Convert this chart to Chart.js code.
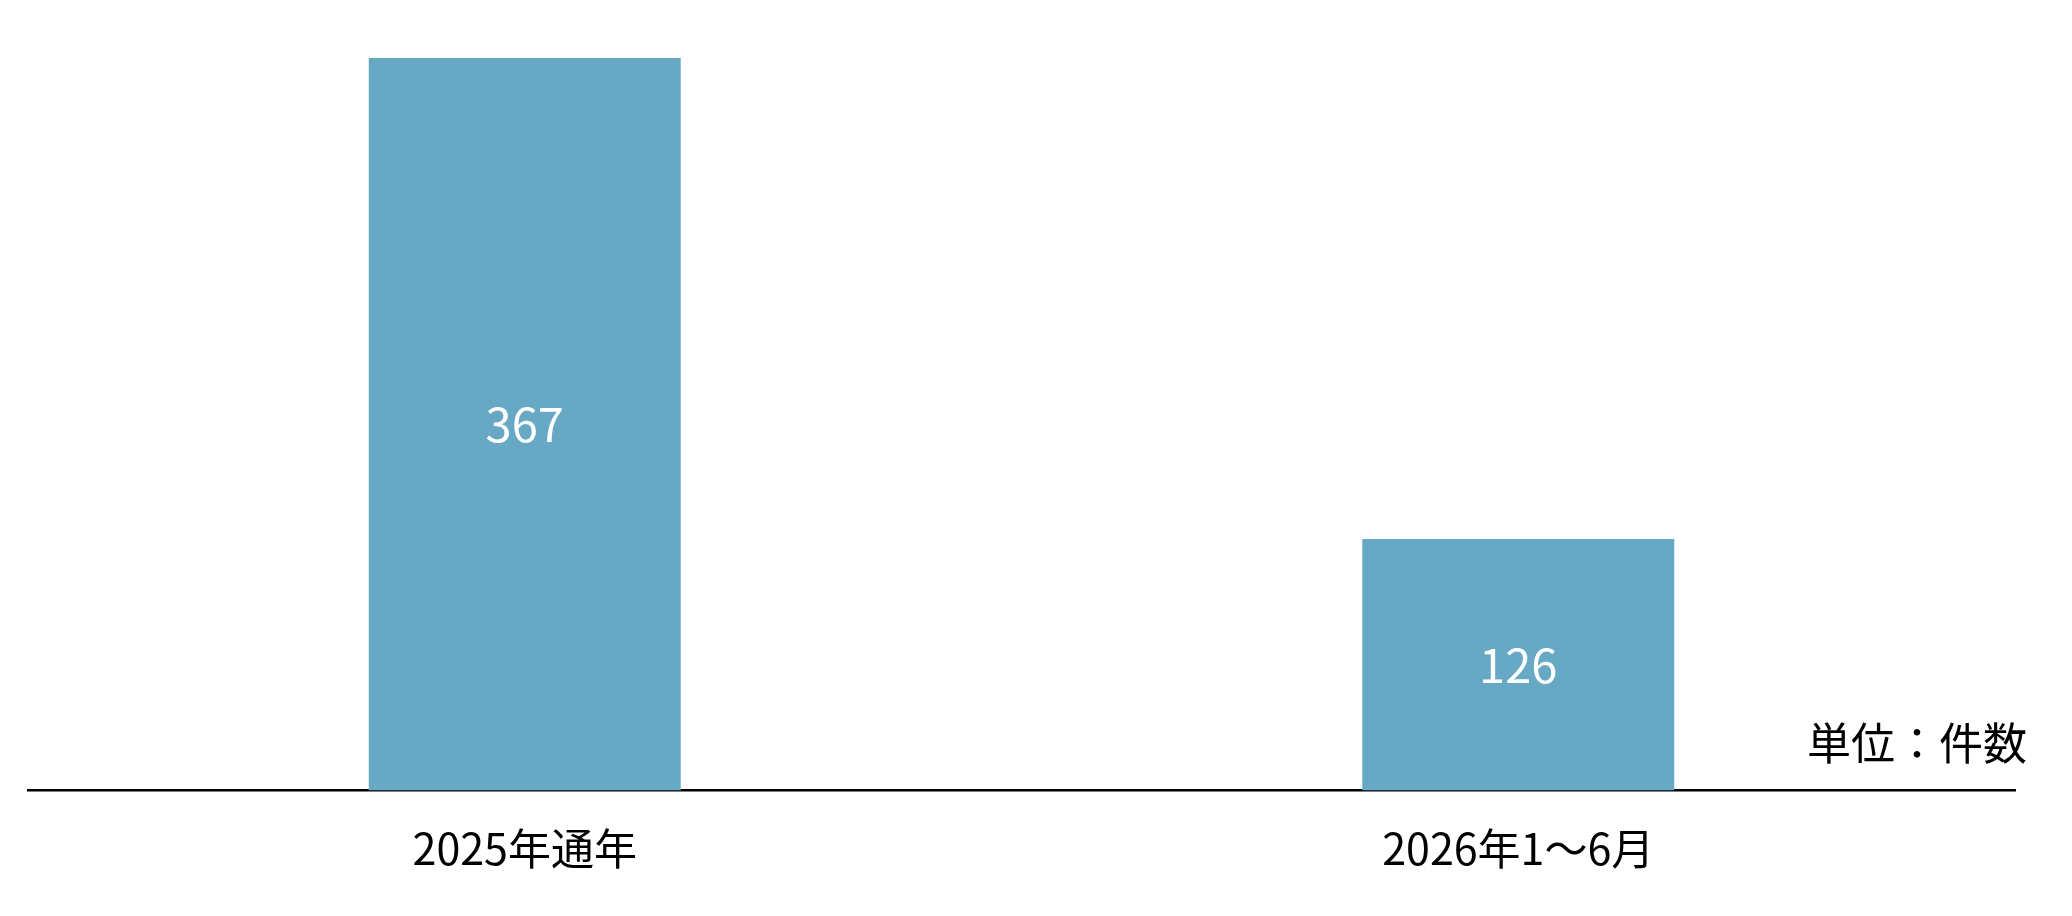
<!DOCTYPE html>
<html lang="ja">
<head>
<meta charset="utf-8">
<title>件数</title>
<script src="https://cdn.jsdelivr.net/npm/chart.js@4.4.1/dist/chart.umd.min.js"></script>
<style>
  html, body { margin: 0; padding: 0; background: #ffffff; }
  #wrap { position: relative; width: 2072px; height: 916px; }
</style>
</head>
<body>
<div id="wrap"><canvas id="c"></canvas></div>
<script>
const categories = ['2025年通年', '2026年1～6月'];
const counts = [367, 126];
const unitLabel = '単位：件数';
const barColor = '#67A9C4';

const FONT = "'Noto Sans CJK JP', 'Noto Sans', sans-serif";
Chart.defaults.font.family = FONT;
Chart.defaults.color = '#000000';

const valueLabels = {
  id: 'valueLabels',
  afterDatasetsDraw(chart) {
    const ctx = chart.ctx;
    const meta = chart.getDatasetMeta(0);
    ctx.save();
    ctx.fillStyle = '#ffffff';
    ctx.font = '47px ' + FONT;
    ctx.textAlign = 'center';
    ctx.textBaseline = 'middle';
    meta.data.forEach((bar, i) => {
      const v = chart.data.datasets[0].data[i];
      const cy = (bar.y + bar.base) / 2;
      ctx.fillText(String(v), bar.x, cy);
    });
    ctx.restore();
  }
};

const unitText = {
  id: 'unitText',
  afterDraw(chart) {
    const ctx = chart.ctx;
    const a = chart.chartArea;
    ctx.save();
    ctx.fillStyle = '#000000';
    ctx.font = '44px ' + FONT;
    ctx.textAlign = 'right';
    ctx.textBaseline = 'middle';
    ctx.fillText(unitLabel, a.right + 12, a.bottom - 47);
    ctx.restore();
  }
};

new Chart(document.getElementById('c'), {
  type: 'bar',
  data: {
    labels: categories,
    datasets: [{
      data: counts,
      backgroundColor: barColor,
      borderWidth: 0,
      barPercentage: 0.314,
      categoryPercentage: 1.0
    }]
  },
  options: {
    responsive: true,
    maintainAspectRatio: false,
    devicePixelRatio: 1,
    animation: false,
    layout: { padding: { left: 28, right: 57, top: 58, bottom: 10 } },
    plugins: {
      legend: { display: false },
      tooltip: { enabled: false },
      title: { display: false }
    },
    scales: {
      x: {
        z: 1,
        grid: { display: false, drawTicks: false },
        border: { display: true, color: '#000000', width: 2.5 },
        ticks: { color: '#000000', font: { size: 43, family: FONT }, padding: 32, maxRotation: 0 }
      },
      y: {
        display: false,
        min: 0,
        max: 367,
        grid: { display: false }
      }
    }
  },
  plugins: [valueLabels, unitText]
});
</script>
</body>
</html>
